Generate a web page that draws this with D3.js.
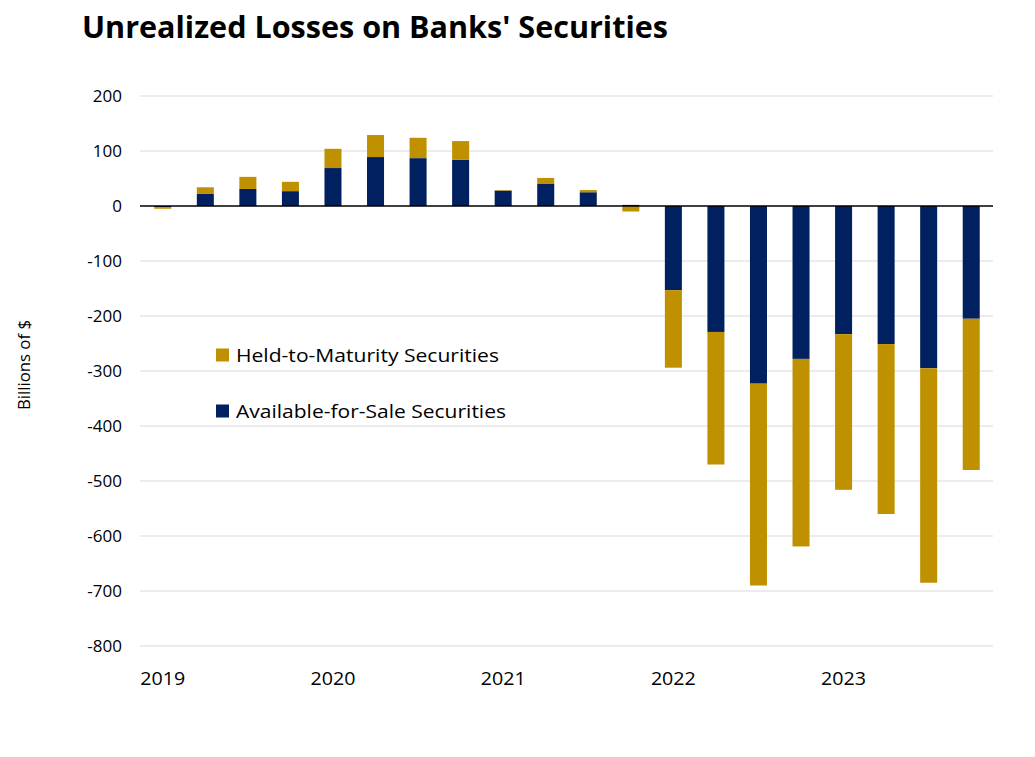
<!DOCTYPE html>
<html>
<head>
<meta charset="utf-8">
<script src="https://cdn.jsdelivr.net/npm/d3@7"></script>
<style>
  html, body { margin: 0; padding: 0; background: #fff; }
  svg { display: block; }
  text { font-family: "Open Sans", "Noto Sans", sans-serif; fill: #000; }
</style>
</head>
<body>
<svg id="chart" width="1035" height="757"></svg>
<script>
// ---- Data (billions of $) ----
const quarters = ["2019Q1","2019Q2","2019Q3","2019Q4","2020Q1","2020Q2","2020Q3","2020Q4",
                  "2021Q1","2021Q2","2021Q3","2021Q4","2022Q1","2022Q2","2022Q3","2022Q4",
                  "2023Q1","2023Q2","2023Q3","2023Q4"];
const availableForSale = [-2, 22, 31, 27, 69, 89, 87, 84, 28, 40, 25, 2,
                          -153, -229, -323, -278, -233, -251, -295, -205];
const heldToMaturity   = [-3, 12, 22, 17, 35, 40, 37, 34, 1, 11, 4, -10,
                          -141, -241, -367, -341, -283, -309, -390, -275];
const yTicks = [200, 100, 0, -100, -200, -300, -400, -500, -600, -700, -800];
const yearLabels = ["2019","2020","2021","2022","2023"];
const yearQuarters = ["2019Q1","2020Q1","2021Q1","2022Q1","2023Q1"];
const seriesNames = ["Held-to-Maturity Securities", "Available-for-Sale Securities"];

const colors = { afs: "#002060", htm: "#BF9000" };

const svg = d3.select("#chart");

const rows = quarters.map((q, i) => ({ q, afs: availableForSale[i], htm: heldToMaturity[i] }));
const stack = d3.stack().keys(["afs", "htm"]).offset(d3.stackOffsetDiverging);
const stacked = stack(rows);

const x = d3.scaleBand().domain(quarters).range([141.5, 992.5]).paddingInner(0.6).paddingOuter(0.3);
const y = d3.scaleLinear().domain([-800, 200]).range([646, 96]);

const plotLeft = 140, plotRight = 993;

// gridlines
svg.append("g").selectAll("line").data(yTicks.filter(d => d !== 0)).join("line")
  .attr("x1", plotLeft).attr("x2", plotRight)
  .attr("y1", d => y(d)).attr("y2", d => y(d))
  .attr("stroke", "#D9D9D9").attr("stroke-width", 1);

// y tick labels
svg.append("g").selectAll("text").data(yTicks).join("text")
  .attr("x", 122).attr("y", d => y(d)).attr("dy", "0.35em")
  .attr("text-anchor", "end").attr("font-size", 17)
  .text(d => d);

// bars
svg.append("g").selectAll("g").data(stacked).join("g")
  .attr("fill", d => colors[d.key])
  .selectAll("rect").data(d => d).join("rect")
  .attr("x", d => x(d.data.q))
  .attr("width", x.bandwidth())
  .attr("y", d => y(Math.max(d[0], d[1])))
  .attr("height", d => Math.abs(y(d[0]) - y(d[1])));

// zero line
svg.append("line")
  .attr("x1", plotLeft).attr("x2", plotRight)
  .attr("y1", y(0)).attr("y2", y(0))
  .attr("stroke", "#000").attr("stroke-width", 1.6);

// x labels
svg.append("g").selectAll("text").data(yearLabels).join("text")
  .attr("x", (d, i) => x(yearQuarters[i]) + x.bandwidth() / 2)
  .attr("y", 685)
  .attr("text-anchor", "middle").attr("font-size", 18)
  .attr("textLength", 45).attr("lengthAdjust", "spacingAndGlyphs")
  .text(d => d);

// y axis title
svg.append("text")
  .attr("transform", "translate(30,365) rotate(-90)")
  .attr("text-anchor", "middle").attr("font-size", 16)
  .attr("textLength", 90).attr("lengthAdjust", "spacingAndGlyphs")
  .text("Billions of $");

// title
svg.append("text")
  .attr("x", 82).attr("y", 38)
  .attr("font-size", 31).attr("font-weight", "bold")
  .attr("textLength", 586).attr("lengthAdjust", "spacingAndGlyphs")
  .text("Unrealized Losses on Banks' Securities");

// legend
const legendData = [
  { name: seriesNames[0], color: colors.htm, y: 355, w: 263 },
  { name: seriesNames[1], color: colors.afs, y: 411, w: 270 }
];
const lg = svg.append("g");
lg.selectAll("rect").data(legendData).join("rect")
  .attr("x", 216).attr("y", d => d.y - 6.5).attr("width", 13).attr("height", 13)
  .attr("fill", d => d.color);
lg.selectAll("text").data(legendData).join("text")
  .attr("x", 236).attr("y", d => d.y).attr("dy", "0.36em")
  .attr("font-size", 19)
  .attr("textLength", d => d.w).attr("lengthAdjust", "spacingAndGlyphs")
  .text(d => d.name);
</script>
</body>
</html>
